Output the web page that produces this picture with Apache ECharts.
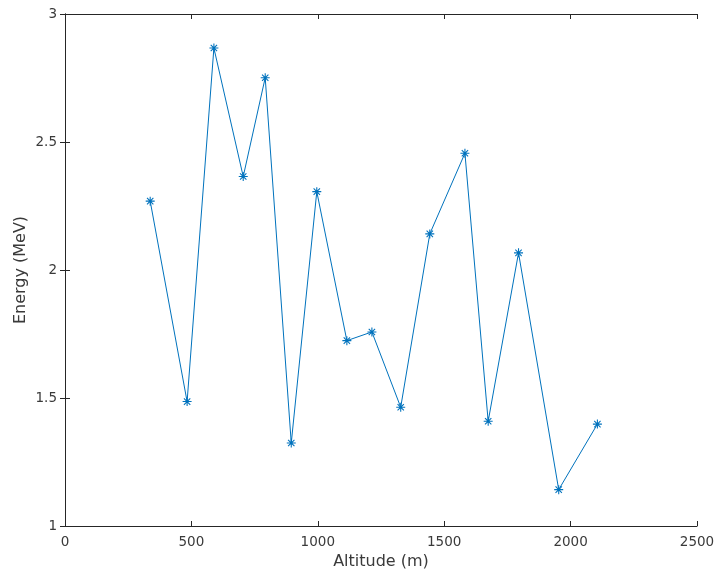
<!DOCTYPE html>
<html>
<head>
<meta charset="utf-8">
<style>
  html, body { margin: 0; padding: 0; background: #ffffff; }
  #chart { width: 719px; height: 576px; }
</style>
<script src="https://cdn.jsdelivr.net/npm/echarts@6/dist/echarts.min.js"></script>
</head>
<body>
<div id="chart"></div>
<script>
// Measured energy at each altitude
const altitude = [337, 483, 589, 705, 792, 895, 996, 1115, 1214, 1328, 1443, 1582, 1674, 1794, 1953, 2106];
const energy = [2.269, 1.486, 2.867, 2.365, 2.751, 1.324, 2.306, 1.724, 1.758, 1.464, 2.141, 2.456, 1.409, 2.067, 1.142, 1.398];

const xTicks = { min: 0, max: 2500, interval: 500 };
const yTicks = { min: 1, max: 3, interval: 0.5 };

// Eight-armed asterisk marker built from thin bars (all wound the same way)
const asterisk = 'path://' +
  'M-1,-0.12 L1,-0.12 L1,0.12 L-1,0.12 Z ' +
  'M-0.12,-1 L0.12,-1 L0.12,1 L-0.12,1 Z ' +
  'M-0.622,-0.792 L0.792,0.622 L0.622,0.792 L-0.792,-0.622 Z ' +
  'M-0.792,0.622 L0.622,-0.792 L0.792,-0.622 L-0.622,0.792 Z';

const ink = '#262626';
const textInk = '#3a3a3a';
const font = 'DejaVu Sans';

const axisLine = { show: true, lineStyle: { color: ink, width: 1 } };
const axisTick = { show: true, inside: true, length: 5, lineStyle: { color: ink, width: 1 } };

const chart = echarts.init(document.getElementById('chart'), null, { renderer: 'canvas' });
chart.setOption({
  animation: false,
  backgroundColor: '#ffffff',
  grid: { left: 65, right: 22, top: 14, bottom: 50, containLabel: false },
  xAxis: [
    {
      type: 'value', position: 'bottom',
      min: xTicks.min, max: xTicks.max, interval: xTicks.interval,
      name: 'Altitude (m)', nameLocation: 'middle', nameGap: 27,
      nameTextStyle: { color: textInk, fontFamily: font, fontSize: 16 },
      axisLine: axisLine, axisTick: axisTick,
      axisLabel: { color: textInk, fontFamily: font, fontSize: 13.5, margin: 9,
                   formatter: v => String(v) },
      splitLine: { show: false }
    },
    {
      type: 'value', position: 'top',
      min: xTicks.min, max: xTicks.max, interval: xTicks.interval,
      axisLine: axisLine, axisTick: axisTick,
      axisLabel: { show: false }, splitLine: { show: false }
    }
  ],
  yAxis: [
    {
      type: 'value', position: 'left',
      min: yTicks.min, max: yTicks.max, interval: yTicks.interval,
      name: 'Energy (MeV)', nameLocation: 'middle', nameGap: 36,
      nameMoveOverlap: false,
      nameTextStyle: { color: textInk, fontFamily: font, fontSize: 16 },
      axisLine: axisLine, axisTick: axisTick,
      axisLabel: { color: textInk, fontFamily: font, fontSize: 13.5, margin: 8 },
      splitLine: { show: false }
    },
    {
      type: 'value', position: 'right',
      min: yTicks.min, max: yTicks.max, interval: yTicks.interval,
      axisLine: axisLine, axisTick: axisTick,
      axisLabel: { show: false }, splitLine: { show: false }
    }
  ],
  series: [
    {
      type: 'line',
      xAxisIndex: 0, yAxisIndex: 0,
      data: altitude.map((a, i) => [a, energy[i]]),
      showAllSymbol: true,
      symbol: asterisk,
      symbolSize: 9,
      itemStyle: { color: '#0072BD' },
      lineStyle: { color: '#0072BD', width: 1 },
      emphasis: { disabled: true }
    }
  ]
});
</script>
</body>
</html>
